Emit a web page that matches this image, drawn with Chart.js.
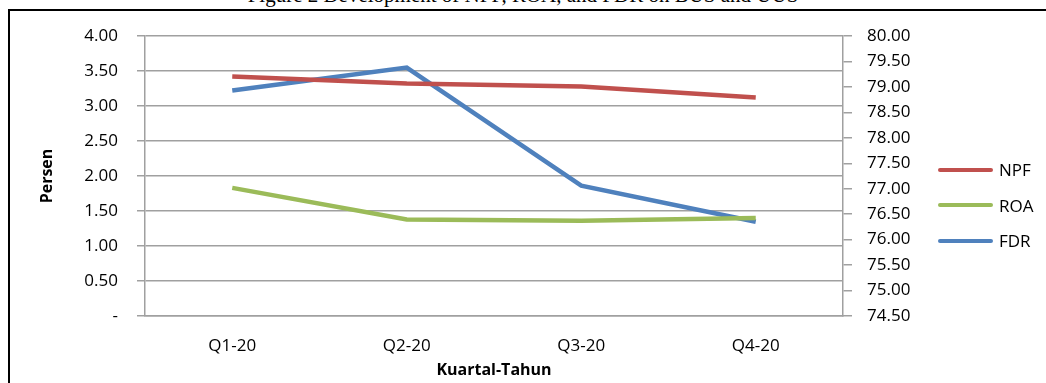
<!DOCTYPE html>
<html>
<head>
<meta charset="utf-8">
<script src="https://cdn.jsdelivr.net/npm/chart.js@4/dist/chart.umd.min.js"></script>
<style>
  body { margin: 0; background: #fff; width: 1046px; height: 383px; overflow: hidden; position: relative; }
  #frame { position: absolute; left: 8px; top: 9px; width: 1100px; height: 420px; border: 2px solid #000; box-sizing: border-box; }
  #title { position: absolute; left: 0; width: 1046px; top: -17px; text-align: center; font: 21px "Liberation Serif", serif; color: #000; }
  #wrap { position: absolute; left: 0; top: 0; width: 1046px; height: 383px; }
  #legend { position: absolute; left: 938px; top: 152px; font: 17px "Open Sans", sans-serif; color: #000; }
  .item { height: 35.5px; display: flex; align-items: center; }
  .swatch { width: 55px; height: 4px; border-radius: 2px; margin-right: 6px; }
</style>
</head>
<body>
<div id="title">Figure 2 Development of NPF, ROA, and FDR on BUS and UUS</div>
<div id="frame"></div>
<div id="wrap"><canvas id="lineChart" width="1046" height="383"></canvas></div>
<div id="legend"></div>
<script>
const quarters = ["Q1-20", "Q2-20", "Q3-20", "Q4-20"];
const npf = [3.42, 3.32, 3.28, 3.12];
const roa = [1.83, 1.38, 1.36, 1.40];
const fdr = [78.93, 79.38, 77.06, 76.35];

const seriesNames = ["NPF", "ROA", "FDR"];
const seriesColors = ["#C0504D", "#9BBB59", "#4F81BD"];

const gridGray = "#a0a0a0";
const tickFont = { family: "Open Sans", size: 17 };

function createChart() {
  const data = {
    labels: quarters,
    datasets: [
      { label: seriesNames[0], data: npf, yAxisID: "y", borderColor: seriesColors[0] },
      { label: seriesNames[1], data: roa, yAxisID: "y", borderColor: seriesColors[1] },
      { label: seriesNames[2], data: fdr, yAxisID: "y1", borderColor: seriesColors[2] },
    ].map(ds => Object.assign(ds, { fill: false, borderWidth: 4.5, pointRadius: 0, tension: 0 })),
  };

  const config = {
    type: "line",
    data: data,
    options: {
      responsive: false,
      animation: false,
      layout: { padding: { top: 36, right: 103, bottom: 0, left: 0 } },
      plugins: { legend: { display: false }, tooltip: { enabled: false } },
      scales: {
        x: {
          offset: true,
          grid: { display: false, drawTicks: false },
          border: { display: true, color: gridGray, width: 1.5 },
          ticks: { color: "#000", font: tickFont, padding: 20 },
          title: { display: true, text: "Kuartal-Tahun", color: "#000",
                   font: { family: "Open Sans", size: 16, weight: "bold" }, padding: { top: 0, bottom: 3 } },
          afterFit: (scale) => { scale.height = 67; },
        },
        y: {
          position: "left",
          min: 0,
          max: 4,
          grid: { color: gridGray, lineWidth: 1.5, tickLength: 8, tickColor: gridGray },
          border: { display: true, color: gridGray, width: 1.5 },
          ticks: {
            stepSize: 0.5,
            color: "#000",
            font: tickFont,
            padding: 19,
            callback: (v) => (v === 0 ? "-" : v.toFixed(2)),
          },
          title: { display: true, text: "Persen", color: "#000",
                   font: { family: "Open Sans", size: 16, weight: "bold" }, padding: { top: 38, bottom: 0 } },
          afterFit: (scale) => { scale.width = 145; },
        },
        y1: {
          position: "right",
          min: 74.5,
          max: 80,
          grid: { drawOnChartArea: false, tickLength: 9, color: gridGray, tickColor: gridGray, lineWidth: 1.5 },
          border: { display: true, color: gridGray, width: 1.5 },
          ticks: {
            stepSize: 0.5,
            color: "#000",
            font: tickFont,
            padding: 15,
            callback: (v) => v.toFixed(2),
          },
          afterFit: (scale) => { scale.width = 100; },
        },
      },
    },
  };

  const ctx = document.getElementById("lineChart");
  new Chart(ctx, config);

  const legend = document.getElementById("legend");
  seriesNames.forEach((name, i) => {
    const item = document.createElement("div");
    item.className = "item";
    item.innerHTML = `<span class="swatch" style="background:${seriesColors[i]}"></span><span>${name}</span>`;
    legend.appendChild(item);
  });
}

document.addEventListener("DOMContentLoaded", () => {
  createChart();
});
</script>
</body>
</html>
